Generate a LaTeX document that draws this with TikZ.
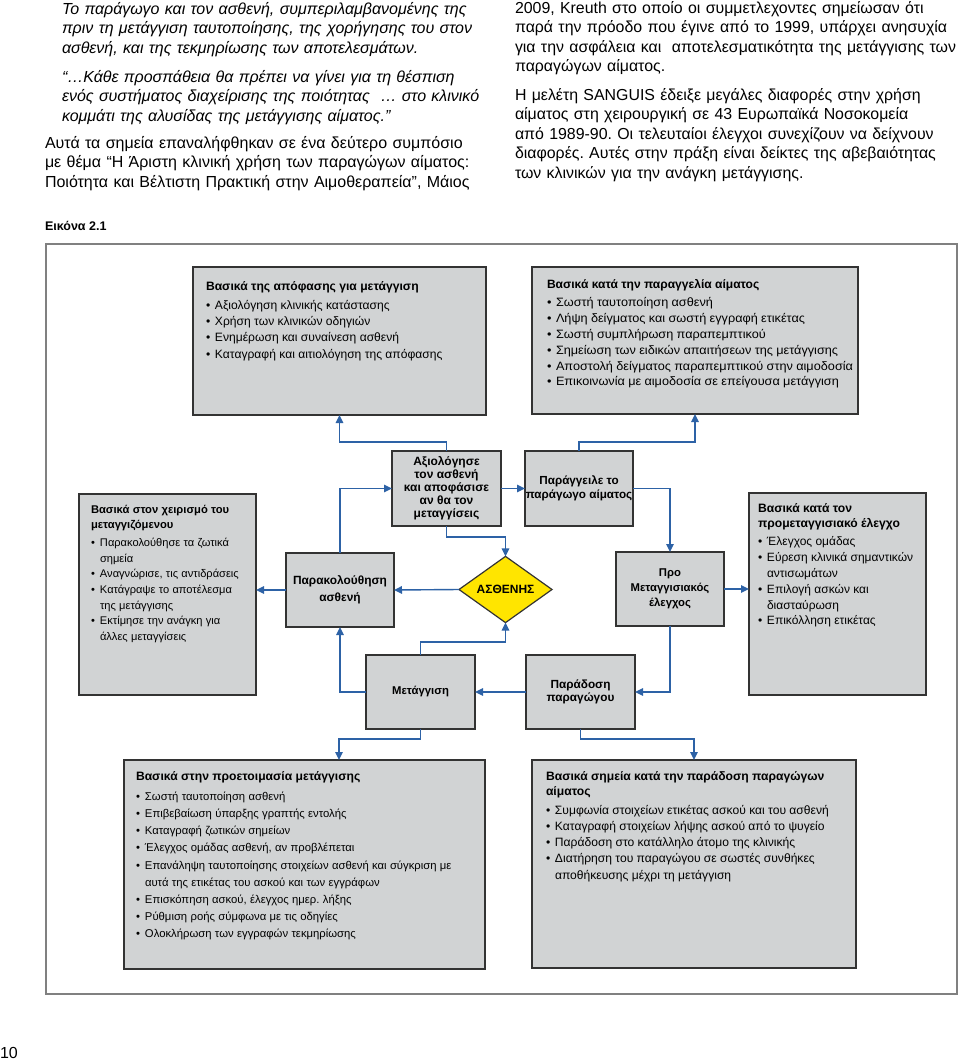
\documentclass[tikz,border=0pt]{standalone}
\usepackage{fontspec}
\setmainfont{Liberation Sans}
\newfontfamily\widefont[FakeStretch=1.05]{Liberation Sans}
\usetikzlibrary{arrows.meta,shapes.geometric,calc}
\definecolor{boxgray}{HTML}{D1D3D4}
\definecolor{edge}{HTML}{333333}
\definecolor{flowc}{HTML}{2D62A6}
\definecolor{framec}{HTML}{808080}
\definecolor{ylw}{HTML}{FFE500}
\frenchspacing
\newcommand{\brk}{\hfil\break}
\newcommand{\itm}[1]{\par\hangindent=9pt\hangafter=1\noindent\makebox[9pt][l]{•}#1}
\newcommand{\ttl}[1]{\bfseries\fontsize{#1}{15}\selectfont}
\newcommand{\bul}[2]{\par\vspace{3pt}\normalfont\fontsize{#1}{#2}\selectfont}
\begin{document}
\begin{tikzpicture}[x=1pt,y=-1pt,
  every node/.style={inner sep=0pt, outer sep=0pt},
  box/.style={draw=edge, fill=boxgray, line width=1.5pt, anchor=north west},
  blk/.style={draw=edge, fill=boxgray, line width=1.5pt, minimum width=108pt, minimum height=74pt, align=center, font=\bfseries\fontsize{12}{13}\selectfont},
  txt/.style={anchor=base west, align=left, text width=#1},
  flow/.style={draw=flowc, line width=1.4pt, -{Triangle[length=8pt,width=7.5pt]}}
]
\useasboundingbox (0,0) rectangle (960,1060);
\fill[white] (0,0) rectangle (960,1060);

% running text
\node[txt=470pt, font=\itshape\fontsize{16}{19.5}\selectfont] (p1) at (62,14)
  {Το παράγωγο και τον ασθενή, συμπεριλαμβανομένης της\brk πριν τη μετάγγιση ταυτοποίησης, της χορήγησης του στον\brk ασθενή, και της τεκμηρίωσης των αποτελεσμάτων.\par};
\node[txt=470pt, font=\itshape\fontsize{16}{19.5}\selectfont] (p2) at (62,82)
  {“…Κάθε προσπάθεια θα πρέπει να γίνει για τη θέσπιση\brk ενός συστήματος διαχείρισης της ποιότητας~ … στο κλινικό\brk κομμάτι της αλυσίδας της μετάγγισης αίματος.”\par};
\node[txt=470pt, font=\fontsize{16}{19.5}\selectfont] (p3) at (45,148)
  {Αυτά τα σημεία επαναλήφθηκαν σε ένα δεύτερο συμπόσιο\brk με θέμα “Η Άριστη κλινική χρήση των παραγώγων αίματος:\brk Ποιότητα και Βέλτιστη Πρακτική στην Αιμοθεραπεία”, Μάιος\par};
\node[txt=445pt, font=\fontsize{15.9}{19.5}\selectfont] (p4) at (515,13)
  {2009, Kreuth στο οποίο οι συμμετλεχοντες σημείωσαν ότι\brk παρά την πρόοδο που έγινε από το 1999, υπάρχει ανησυχία\brk για την ασφάλεια και~ αποτελεσματικότητα της μετάγγισης των\brk παραγώγων αίματος.\par};
\node[txt=445pt, font=\fontsize{15.9}{19.5}\selectfont] (p5) at (515,100)
  {Η μελέτη SANGUIS έδειξε μεγάλες διαφορές στην χρήση\brk αίματος στη χειρουργική σε 43 Ευρωπαϊκά Νοσοκομεία\brk από 1989-90. Οι τελευταίοι έλεγχοι συνεχίζουν να δείχνουν\brk διαφορές. Αυτές στην πράξη είναι δείκτες της αβεβαιότητας\brk των κλινικών για την ανάγκη μετάγγισης.\par};
\node[anchor=base west, font=\bfseries\fontsize{12.5}{15}\selectfont] (cap) at (45,230) {Εικόνα 2.1};
\node[anchor=base west, font=\fontsize{16}{18}\selectfont] (pnum) at (0,1058) {10};

% frame
\draw[draw=framec, line width=2pt] (46,244) rectangle (957,994);

% big boxes
\node[box, minimum width=293pt, minimum height=148pt] (tl) at (193,267) {};
\node[box, minimum width=326pt, minimum height=147pt] (tr) at (532,267) {};
\node[box, minimum width=177pt, minimum height=201pt] (lb) at (79,494) {};
\node[box, minimum width=177pt, minimum height=202pt] (rb) at (749,493) {};
\node[box, minimum width=361pt, minimum height=209pt] (bl) at (124,760) {};
\node[box, minimum width=324pt, minimum height=208pt] (br) at (532,760) {};

\node[txt=280pt] (tlt) at (206,290) {\ttl{12.15}Βασικά της απόφασης για μετάγγιση\bul{12.1}{16.3}%
  \itm{Αξιολόγηση κλινικής κατάστασης}\itm{Χρήση των κλινικών οδηγιών}\itm{Ενημέρωση και συναίνεση ασθενή}\itm{Καταγραφή και αιτιολόγηση της απόφασης}\par};
\node[txt=345pt] (trt) at (547,288) {\ttl{12.05}Βασικά κατά την παραγγελία αίματος\bul{12.1}{15.8}\widefont
  \itm{Σωστή ταυτοποίηση ασθενή}\itm{Λήψη δείγματος και σωστή εγγραφή ετικέτας}\itm{Σωστή συμπλήρωση παραπεμπτικού}\itm{Σημείωση των ειδικών απαιτήσεων της μετάγγισης}\itm{Αποστολή δείγματος παραπεμπτικού στην αιμοδοσία}\itm{Επικοινωνία με αιμοδοσία σε επείγουσα μετάγγιση}\par};
\node[txt=165pt] (lbt) at (91,513) {\ttl{11.2}Βασικά στον χειρισμό του\brk μεταγγιζόμενου\bul{11.1}{15.6}%
  \itm{Παρακολούθησε τα ζωτικά\brk σημεία}\itm{Αναγνώρισε, τις αντιδράσεις}\itm{Κατάγραψε το αποτέλεσμα\brk της μετάγγισης}\itm{Εκτίμησε την ανάγκη για\brk άλλες μεταγγίσεις}\par};
\node[txt=168pt] (rbt) at (758,512) {\ttl{12.15}Βασικά κατά τον\brk προμεταγγισιακό έλεγχο\bul{12}{15.8}%
  \itm{Έλεγχος ομάδας}\itm{Εύρεση κλινικά σημαντικών\brk αντισωμάτων}\itm{Επιλογή ασκών και\brk διασταύρωση}\itm{Επικόλληση ετικέτας}\par};
\node[txt=345pt] (blt) at (136,780) {\ttl{12.15}Βασικά στην προετοιμασία μετάγγισης\bul{11.3}{17.2}%
  \itm{Σωστή ταυτοποίηση ασθενή}\itm{Επιβεβαίωση ύπαρξης γραπτής εντολής}\itm{Καταγραφή ζωτικών σημείων}\itm{Έλεγχος ομάδας ασθενή, αν προβλέπεται}\itm{Επανάληψη ταυτοποίησης στοιχείων ασθενή και σύγκριση με\brk αυτά της ετικέτας του ασκού και των εγγράφων}\itm{Επισκόπηση ασκού, έλεγχος ημερ. λήξης}\itm{Ρύθμιση ροής σύμφωνα με τις οδηγίες}\itm{Ολοκλήρωση των εγγραφών τεκμηρίωσης}\par};
\node[txt=305pt] (brt) at (546,780) {\ttl{12.15}Βασικά σημεία κατά την παράδοση παραγώγων\brk αίματος\bul{12.1}{16.2}%
  \itm{Συμφωνία στοιχείων ετικέτας ασκού και του ασθενή}\itm{Καταγραφή στοιχείων λήψης ασκού από το ψυγείο}\itm{Παράδοση στο κατάλληλο άτομο της κλινικής}\itm{Διατήρηση του παραγώγου σε σωστές συνθήκες\brk αποθήκευσης μέχρι τη μετάγγιση}\par};

% process nodes
\node[blk, minimum width=109pt, minimum height=75pt] (ax) at (446.5,488.5) {Αξιολόγησε\\τον ασθενή\\και αποφάσισε\\αν θα τον\\μεταγγίσεις};
\node[blk, minimum height=75pt, font=\bfseries\fontsize{11.7}{14}\selectfont] (ord) at (579,488.5) {Παράγγειλε το\\παράγωγο αίματος};
\node[blk, font=\bfseries\fontsize{11.9}{17}\selectfont] (pk) at (340,590) {Παρακολούθηση\\ασθενή};
\node[blk, font=\bfseries\fontsize{11.3}{15}\selectfont] (pro) at (670,589) {Προ\\Μεταγγισιακός\\έλεγχος};
\node[blk, minimum width=109pt, font=\bfseries\fontsize{11.3}{13}\selectfont] (mt) at (420.5,692) {Μετάγγιση};
\node[blk, minimum width=109pt, font=\bfseries\fontsize{11.8}{13.5}\selectfont] (pd) at (580.5,692) {Παράδοση\\παραγώγου};
\node[diamond, draw=edge, fill=ylw, line width=1.2pt, minimum width=93pt, minimum height=55pt, font=\bfseries\fontsize{12}{14}\selectfont] (dm) at (505.5,589.5) {ΑΣΘΕΝΗΣ};

% connectors
\draw[flow] (ax.north) -- ++(0,-9) -| (tl.south);
\draw[flow] (ord.north) -- ++(0,-9) -| (tr.south);
\draw[flow] (ax.east) -- (ord.west);
\draw[flow] (pk.north) |- (ax.west);
\draw[flow] (ax.south) -- ++(0,11) -| (dm.north);
\draw[flow] (ord.east) -| (pro.north);
\draw[flow] (dm.west) -- (pk.east);
\draw[flow] (pk.west) -- (pk.west -| lb.east);
\draw[flow] (mt.north) -- ++(0,-13) -| (dm.south);
\draw[flow] (mt.west) -| (pk.south);
\draw[flow] (pd.west) -- (mt.east);
\draw[flow] (pro.south) |- (pd.east);
\draw[flow] (pro.east) -- (pro.east -| rb.west);
\draw[flow] (mt.south) -- ++(0,10) -| ([xshift=215pt]bl.north west);
\draw[flow] (pd.south) -- ++(0,10) -| (br.north);
\end{tikzpicture}
\end{document}
